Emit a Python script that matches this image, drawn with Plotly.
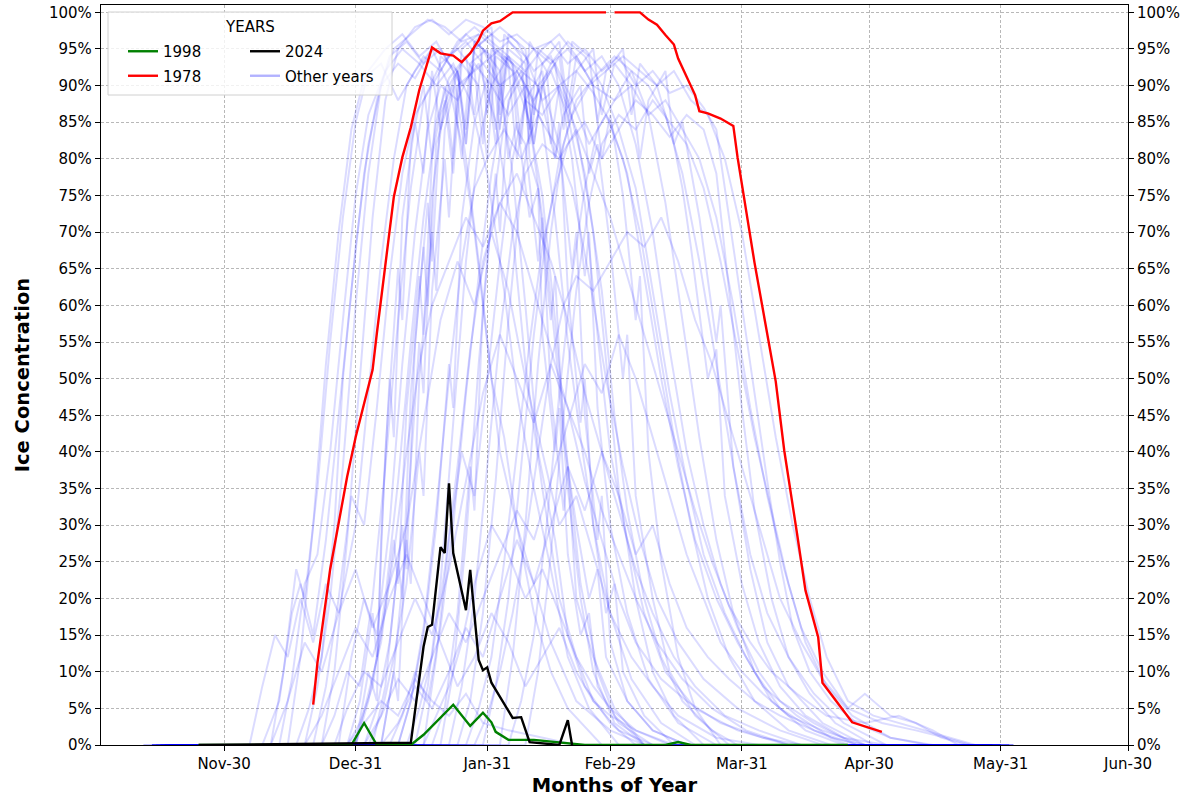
import pandas as pd
import plotly.graph_objects as go

# ---------------- data ----------------
# x values are days since 1 November of the season; y values are ice concentration in %
SEASON_START = "2023-11-01"
TICK_DATES = ["2023-11-30", "2023-12-31", "2024-01-31", "2024-02-29",
              "2024-03-31", "2024-04-30", "2024-05-31", "2024-06-30"]
TICK_LABELS = ["Nov-30", "Dec-31", "Jan-31", "Feb-29", "Mar-31", "Apr-30", "May-31", "Jun-30"]
Y_TICKS = list(range(0, 101, 5))

# highlighted seasons
DAYS_1998 = [23, 59, 62, 65, 73, 76, 83, 87, 90, 92, 93, 96, 102, 107, 111, 114, 133, 136, 139, 176]
CONC_1998 = [0, 0, 3, 0, 0, 1.4, 5.5, 2.6, 4.4, 3.1, 1.8, 0.7, 0.7, 0.4, 0.2, 0, 0, 0.4, 0, 0]

DAYS_1978 = [50, 51, 54, 58, 60, 64, 65, 67, 69, 71, 73, 75, 78, 80, 83, 85, 87, 89, 90, 92, 94, 97,
             119, 120, 121, 127, 129, 131, 133, 135, 136, 138, 140, 141, 143, 146, 148, 149, 150,
             154, 159, 161, 164, 166, 169, 170, 177, 184]
CONC_1978 = [5.5, 11.2, 24, 36.6, 42, 51.2, 56.2, 65.2, 74.8, 80.2, 84.3, 89.4, 95.2, 94.4, 94.1,
             93.2, 94.4, 96.2, 97.5, 98.5, 98.8, 100,
             100, None, 100, 100, 99, 98.3, 96.9, 95.6, 93.7, 91.1, 88.7, 86.5, 86.2, 85.5, 84.9,
             84.5, 80.2, 65.8, 49.6, 40.2, 28.9, 21.1, 14.7, 8.5, 3.1, 1.8]

DAYS_2024 = [23, 73, 76, 77, 78, 80, 81, 82, 83, 86, 87, 89, 90, 91, 92, 94, 97, 99, 101, 108, 110, 111]
CONC_2024 = [0, 0.3, 13.4, 16.1, 16.4, 27, 26.2, 35.7, 26.2, 18.4, 23.9, 11.6, 10.2, 10.6, 8.5, 6.6,
             3.7, 3.8, 0.4, 0, 3.4, 0]

# other seasons: (day, concentration) pairs
Y1979 = [(12,0),(52,0),(55,10),(58,28),(61,50),(64,72),(67,88),(70,95),(74,98),(78,99),(82,97),(86,99),(90,98),(94,96),(98,97),(102,95),(106,96),(110,93),(114,95),(118,92),(122,94),(126,90),(130,92),(134,89),(138,90),(142,87),(145,84),(148,72),(151,60),(154,48),(157,36),(160,25),(163,16),(167,10),(172,6),(178,3),(186,1),(195,0),(214,0)]
Y1980 = [(10,0),(38,0),(42,6),(45,18),(47,22),(50,15),(53,28),(56,45),(59,62),(62,78),(65,88),(68,94),(72,96),(76,93),(80,95),(85,90),(89,93),(93,85),(97,70),(100,52),(104,35),(108,20),(112,12),(116,6),(122,2),(130,0),(205,0)]
Y1981 = [(12,0),(58,0),(61,6),(64,18),(65,12),(67,40),(70,65),(71,58),(73,82),(76,90),(78,80),(80,94),(84,92),(86,84),(88,96),(92,98),(94,88),(96,95),(100,93),(102,82),(104,90),(108,82),(111,65),(112,70),(114,45),(117,28),(118,34),(120,14),(124,6),(130,2),(138,0),(210,0)]
Y1982 = [(15,0),(40,0),(43,10),(46,24),(48,20),(51,35),(54,55),(57,72),(60,85),(63,92),(67,95),(71,97),(75,94),(79,96),(83,92),(86,80),(89,66),(92,50),(95,42),(98,30),(102,18),(106,10),(110,5),(118,0),(200,0)]
Y1983 = [(14,0),(52,0),(55,4),(58,10),(61,8),(64,20),(67,38),(70,58),(73,76),(76,88),(80,93),(84,95),(88,92),(92,94),(96,96),(100,94),(104,88),(108,90),(112,84),(116,70),(119,52),(122,35),(126,20),(130,10),(135,4),(142,0),(210,0)]
Y1984 = [(10,0),(60,0),(63,10),(65,6),(66,28),(68,50),(69,42),(71,72),(74,85),(76,78),(78,92),(80,84),(82,90),(86,94),(88,86),(90,95),(94,92),(96,80),(98,85),(101,72),(103,76),(104,56),(107,40),(108,46),(110,26),(113,15),(115,18),(117,8),(122,3),(130,0),(200,0)]
Y1985 = [(12,0),(46,0),(49,5),(52,12),(55,30),(57,50),(60,68),(63,82),(66,90),(70,93),(74,91),(78,95),(82,94),(86,97),(90,95),(94,90),(97,78),(100,60),(103,40),(107,28),(110,15),(114,8),(120,3),(126,0),(210,0)]
Y1986 = [(15,0),(62,0),(65,5),(68,14),(71,30),(72,24),(74,55),(77,74),(78,66),(80,86),(84,92),(86,82),(88,96),(92,94),(94,84),(96,97),(100,95),(102,86),(104,93),(108,96),(110,87),(112,94),(116,90),(118,80),(120,86),(123,75),(126,58),(127,64),(129,40),(132,25),(136,12),(140,5),(146,0),(212,0)]
Y1987 = [(14,0),(35,0),(38,8),(41,15),(44,12),(47,20),(50,14),(53,22),(56,18),(60,30),(63,48),(66,66),(69,80),(72,90),(76,94),(80,92),(84,96),(88,98),(92,96),(96,94),(100,88),(104,75),(107,58),(110,38),(113,22),(117,10),(121,4),(128,0),(205,0)]
Y1988 = [(20,0),(56,0),(59,12),(62,20),(65,15),(68,30),(71,52),(74,70),(77,84),(80,90),(84,88),(88,93),(92,90),(96,86),(100,90),(104,85),(107,72),(110,55),(113,42),(116,30),(120,18),(125,9),(132,3),(140,0),(205,0)]
Y1989 = [(20,0),(70,0),(73,6),(76,15),(79,30),(82,52),(83,46),(85,72),(88,85),(91,91),(93,82),(95,94),(99,92),(101,84),(103,95),(107,93),(109,84),(111,96),(115,94),(117,85),(119,92),(123,95),(125,86),(127,93),(131,90),(135,82),(137,76),(139,68),(143,50),(145,54),(147,34),(151,22),(155,14),(160,8),(166,4),(175,1),(185,0),(212,0)]
Y1990 = [(20,0),(44,0),(47,12),(50,30),(53,52),(56,70),(59,84),(62,91),(66,93),(70,88),(74,92),(78,95),(82,90),(85,82),(88,70),(91,55),(94,40),(98,30),(102,22),(106,14),(112,6),(120,2),(128,0),(198,0)]
Y1991 = [(13,0),(64,0),(67,8),(70,25),(71,20),(73,48),(76,68),(77,60),(79,82),(83,90),(85,80),(87,93),(91,95),(93,84),(95,97),(99,94),(101,82),(103,90),(107,80),(108,85),(110,62),(113,44),(114,50),(116,30),(119,18),(121,22),(123,10),(128,4),(135,0),(208,0)]
Y1992 = [(12,0),(74,0),(77,8),(80,22),(83,44),(86,66),(89,82),(92,90),(96,94),(100,92),(104,95),(108,97),(112,94),(116,90),(121,88),(125,92),(129,86),(133,74),(137,58),(141,42),(145,28),(149,18),(154,10),(160,5),(168,2),(178,0),(215,0)]
Y1993 = [(18,0),(48,0),(51,8),(54,20),(57,38),(60,60),(63,78),(66,90),(69,95),(73,97),(77,99),(81,98),(85,96),(89,97),(93,95),(97,92),(101,85),(104,72),(107,55),(110,35),(113,20),(116,10),(121,3),(128,0),(200,0)]
Y1994 = [(17,0),(58,0),(61,3),(64,8),(67,20),(70,36),(73,55),(76,72),(79,85),(82,91),(86,94),(90,96),(94,98),(98,96),(102,92),(106,94),(110,88),(114,78),(118,62),(121,45),(124,32),(128,20),(132,12),(137,6),(144,2),(150,0),(210,0)]
Y1995 = [(16,0),(78,0),(81,5),(84,18),(87,38),(88,32),(90,60),(93,78),(94,70),(96,88),(100,92),(102,82),(104,90),(108,94),(110,85),(112,92),(116,95),(118,86),(121,93),(125,90),(127,80),(129,88),(133,92),(135,82),(137,85),(141,72),(145,55),(146,60),(149,38),(153,24),(157,14),(162,8),(170,3),(180,0),(212,0)]
Y1996 = [(16,0),(42,0),(45,9),(48,22),(51,26),(54,40),(57,58),(60,75),(63,86),(67,92),(71,95),(75,93),(79,90),(83,93),(87,88),(91,78),(95,62),(98,48),(102,35),(106,24),(110,12),(115,5),(122,0),(205,0)]
Y1997 = [(12,0),(66,0),(69,10),(70,6),(72,30),(75,55),(76,48),(78,75),(81,88),(83,78),(85,93),(89,90),(91,80),(93,94),(97,92),(98,84),(100,82),(103,66),(104,72),(106,48),(109,32),(110,38),(112,20),(116,12),(121,5),(128,0),(200,0)]
Y1999 = [(18,0),(80,0),(83,10),(86,28),(89,52),(92,72),(95,85),(98,92),(102,95),(106,93),(110,96),(114,94),(118,90),(122,84),(126,76),(130,62),(134,48),(138,36),(142,26),(147,18),(152,12),(158,6),(166,2),(175,0),(210,0)]
Y2000 = [(18,0),(60,0),(63,7),(66,14),(69,28),(70,22),(72,46),(75,64),(76,56),(78,80),(81,90),(83,80),(85,95),(89,97),(91,86),(93,95),(97,93),(99,82),(101,96),(105,92),(107,80),(109,86),(113,90),(115,78),(117,82),(120,68),(123,50),(124,56),(126,34),(130,20),(134,10),(140,4),(148,0),(208,0)]
Y2001 = [(14,0),(68,0),(71,4),(74,10),(77,6),(80,16),(83,30),(86,48),(89,64),(92,78),(95,88),(99,92),(103,90),(107,93),(111,88),(115,82),(119,86),(123,80),(127,70),(131,56),(135,42),(139,30),(143,20),(148,12),(154,6),(162,2),(172,0),(212,0)]
Y2002 = [(14,0),(90,0),(93,8),(96,20),(99,38),(102,56),(105,70),(108,80),(111,86),(115,90),(119,92),(123,94),(127,92),(131,90),(135,92),(139,88),(143,86),(147,80),(151,70),(155,56),(159,42),(163,30),(167,20),(171,12),(176,6),(182,4),(188,3),(194,2),(200,1),(206,0),(215,0)]
Y2003 = [(15,0),(63,0),(66,4),(69,12),(72,22),(75,40),(76,34),(78,62),(81,80),(82,72),(84,90),(88,92),(90,82),(92,95),(96,93),(98,80),(100,88),(104,92),(106,82),(108,90),(111,80),(114,64),(115,70),(117,46),(120,30),(124,18),(129,9),(136,3),(145,0),(212,0)]
Y2004 = [(16,0),(84,0),(87,6),(90,18),(93,36),(96,58),(99,76),(102,88),(106,93),(110,95),(114,92),(118,94),(122,90),(126,82),(130,70),(134,54),(138,40),(142,30),(146,22),(150,16),(155,10),(160,6),(168,3),(178,0),(212,0)]
Y2005 = [(18,0),(96,0),(99,6),(102,15),(105,30),(108,48),(111,64),(114,76),(117,84),(121,88),(125,90),(129,86),(133,88),(137,84),(141,80),(145,72),(149,60),(153,46),(157,34),(161,24),(165,16),(170,10),(176,5),(180,7),(186,4),(192,3),(198,1),(204,0),(215,0)]
Y2006 = [(20,0),(76,0),(79,12),(82,28),(85,40),(88,34),(91,50),(94,66),(97,80),(100,88),(104,86),(108,90),(112,92),(116,89),(120,85),(124,78),(128,64),(132,50),(136,38),(140,28),(145,20),(150,14),(156,8),(164,4),(172,1),(180,0),(210,0)]
Y2007 = [(22,0),(100,0),(103,10),(106,26),(109,45),(112,62),(115,74),(118,82),(122,86),(126,84),(130,88),(134,85),(138,82),(142,76),(146,66),(150,54),(154,42),(158,32),(162,22),(166,14),(171,8),(177,4),(186,1),(196,0),(214,0)]
Y2008 = [(16,0),(50,0),(53,8),(56,20),(59,34),(62,30),(65,46),(68,64),(71,78),(74,86),(78,90),(82,94),(86,96),(90,93),(94,90),(98,92),(102,88),(106,92),(110,86),(114,74),(117,56),(120,40),(124,28),(128,18),(133,10),(140,5),(150,2),(162,0),(210,0)]
Y2009 = [(15,0),(86,0),(89,5),(92,12),(95,25),(98,40),(101,55),(104,68),(107,76),(110,82),(114,85),(118,80),(122,84),(126,88),(130,86),(134,83),(138,86),(142,84),(145,78),(148,62),(151,46),(154,32),(158,20),(162,12),(167,7),(173,3),(182,0),(212,0)]
Y2010 = [(12,0),(40,0),(44,6),(48,14),(52,10),(56,18),(60,24),(64,16),(68,22),(72,30),(76,44),(80,58),(84,66),(88,60),(92,70),(96,62),(100,50),(104,40),(108,30),(112,34),(116,26),(120,18),(125,12),(130,8),(136,4),(145,1),(155,0),(210,0)]
Y2011 = [(20,0),(94,0),(97,12),(100,30),(103,52),(106,70),(109,82),(112,88),(116,91),(121,94),(125,92),(129,90),(133,86),(137,78),(141,66),(145,52),(149,38),(153,26),(157,18),(162,12),(168,7),(175,3),(185,0),(214,0)]
Y2012 = [(15,0),(55,0),(58,5),(62,10),(66,8),(70,14),(74,20),(78,15),(82,24),(86,36),(90,48),(94,56),(98,50),(102,44),(106,52),(110,46),(114,36),(118,28),(122,20),(126,14),(132,9),(138,6),(146,3),(156,1),(165,0),(208,0)]
Y2013 = [(16,0),(88,0),(91,4),(94,10),(97,18),(100,28),(103,40),(106,52),(109,60),(112,64),(116,62),(120,66),(124,70),(128,68),(132,72),(136,66),(140,58),(144,52),(148,44),(152,36),(156,28),(160,20),(165,14),(170,9),(176,5),(184,3),(192,2),(199,1),(205,0),(214,0)]
Y2014 = [(18,0),(70,0),(73,6),(76,16),(79,32),(82,50),(85,66),(88,76),(91,80),(95,84),(99,80),(103,86),(107,82),(111,76),(115,64),(119,50),(123,38),(127,28),(131,20),(136,14),(142,9),(150,5),(160,2),(170,0),(212,0)]
Y2015 = [(18,0),(62,0),(66,4),(70,9),(74,6),(78,12),(82,18),(86,14),(90,20),(94,26),(98,32),(102,28),(106,36),(110,44),(114,52),(118,48),(122,56),(126,50),(130,42),(134,34),(138,26),(142,20),(146,14),(151,10),(156,7),(162,4),(170,2),(180,0),(212,0)]
Y2016 = [(14,0),(60,0),(63,6),(66,15),(69,26),(72,40),(75,52),(78,60),(82,66),(86,72),(90,68),(94,74),(98,70),(102,62),(106,54),(110,46),(114,40),(118,32),(122,26),(126,20),(131,14),(137,9),(144,5),(152,2),(162,0),(210,0)]
Y2017 = [(14,0),(48,0),(52,4),(56,10),(60,16),(64,12),(68,20),(72,26),(76,20),(80,14),(84,8),(88,12),(92,18),(96,14),(100,8),(104,12),(108,16),(112,10),(116,6),(120,4),(126,2),(135,0),(205,0)]
Y2018 = [(20,0),(82,0),(85,8),(88,20),(91,38),(94,56),(97,70),(100,78),(104,82),(108,80),(112,84),(116,78),(120,72),(124,64),(128,56),(132,48),(136,40),(140,32),(144,25),(148,19),(153,14),(158,10),(164,7),(171,4),(180,3),(188,4),(196,2),(202,0),(215,0)]
Y2019 = [(15,0),(66,0),(69,10),(72,28),(73,22),(75,50),(78,70),(79,62),(81,84),(84,92),(86,82),(88,95),(92,97),(94,86),(96,94),(100,90),(101,80),(103,76),(106,58),(107,64),(109,42),(112,30),(115,20),(117,24),(119,12),(124,6),(130,2),(138,0),(208,0)]
Y2020 = [(20,0),(66,0),(70,3),(74,8),(78,5),(82,10),(86,16),(90,12),(94,20),(98,28),(102,22),(106,30),(110,38),(114,32),(118,40),(122,34),(126,26),(130,30),(134,22),(138,16),(143,12),(148,9),(154,6),(160,4),(168,2),(176,0),(212,0)]
Y2021 = [(17,0),(72,0),(75,5),(78,12),(81,24),(84,38),(87,54),(90,66),(94,74),(98,78),(102,72),(106,66),(110,58),(114,48),(118,40),(122,32),(126,24),(130,18),(135,12),(140,8),(147,4),(155,2),(165,0),(210,0)]
Y2022 = [(13,0),(76,0),(79,4),(82,8),(85,14),(88,22),(92,30),(96,26),(100,20),(104,24),(108,18),(112,12),(116,8),(120,5),(126,2),(134,0),(205,0)]
Y2023 = [(12,0),(58,0),(62,3),(66,6),(70,4),(74,9),(78,6),(82,4),(86,7),(90,3),(96,2),(104,1),(112,0),(200,0)]

OTHER_YEARS = [
    (1979, Y1979), (1980, Y1980), (1981, Y1981), (1982, Y1982), (1983, Y1983), (1984, Y1984),
    (1985, Y1985), (1986, Y1986), (1987, Y1987), (1988, Y1988), (1989, Y1989), (1990, Y1990),
    (1991, Y1991), (1992, Y1992), (1993, Y1993), (1994, Y1994), (1995, Y1995), (1996, Y1996),
    (1997, Y1997), (1999, Y1999), (2000, Y2000), (2001, Y2001), (2002, Y2002), (2003, Y2003),
    (2004, Y2004), (2005, Y2005), (2006, Y2006), (2007, Y2007), (2008, Y2008), (2009, Y2009),
    (2010, Y2010), (2011, Y2011), (2012, Y2012), (2013, Y2013), (2014, Y2014), (2015, Y2015),
    (2016, Y2016), (2017, Y2017), (2018, Y2018), (2019, Y2019), (2020, Y2020), (2021, Y2021),
    (2022, Y2022), (2023, Y2023),
]

# ---------------- figure ----------------
BASE = pd.Timestamp(SEASON_START)


def to_dates(days):
    return [BASE + pd.Timedelta(days=float(d)) for d in days]


FONT = "DejaVu Sans"
OTHER_COLOR = "rgba(0,0,255,0.14)"

fig = go.Figure()

for year, pairs in OTHER_YEARS:
    fig.add_trace(go.Scatter(
        x=to_dates([p[0] for p in pairs]), y=[p[1] for p in pairs],
        mode="lines", line=dict(color=OTHER_COLOR, width=2),
        name=str(year), showlegend=False, hovertemplate=f"{year}: %{{y:.1f}}%<extra></extra>",
    ))

fig.add_trace(go.Scatter(x=to_dates(DAYS_1998), y=CONC_1998, mode="lines",
                         line=dict(color="green", width=2.4), name="1998",
                         legend="legend", legendgroup="g1998"))
fig.add_trace(go.Scatter(x=to_dates(DAYS_1978), y=CONC_1978, mode="lines",
                         line=dict(color="red", width=2.4), name="1978", connectgaps=False,
                         legend="legend", legendgroup="g1978"))
fig.add_trace(go.Scatter(x=to_dates(DAYS_2024), y=CONC_2024, mode="lines",
                         line=dict(color="black", width=2.4), name="2024",
                         legend="legend2", legendgroup="g2024"))
# legend entry for the other years
fig.add_trace(go.Scatter(x=[None], y=[None], mode="lines",
                         line=dict(color="rgba(0,0,255,0.3)", width=2.4), name="Other years",
                         legend="legend2", legendgroup="gother"))
# invisible trace so that the right-hand axis is drawn
fig.add_trace(go.Scatter(x=[None], y=[None], yaxis="y2", showlegend=False, hoverinfo="skip"))

grid = dict(showgrid=True, gridcolor="#b8b8b8", gridwidth=0.8, griddash="3px,2px")

fig.update_layout(
    width=1186, height=800,
    margin=dict(l=101, r=58, t=5, b=55),
    paper_bgcolor="white", plot_bgcolor="white",
    font=dict(family=FONT, size=15, color="black"),
    xaxis=dict(
        type="date", range=[to_dates([0])[0], TICK_DATES[-1]],
        tickmode="array", tickvals=TICK_DATES, ticktext=TICK_LABELS,
        ticks="outside", ticklen=5, tickwidth=1, tickcolor="black",
        showline=True, linecolor="black", linewidth=1.3, mirror=True,
        title=dict(text="Months of Year", font=dict(size=19.5, weight="bold"), standoff=6),
        zeroline=False, **grid,
    ),
    yaxis=dict(
        range=[0, 101], tickmode="array", tickvals=Y_TICKS,
        ticktext=[f"{v}%" for v in Y_TICKS],
        ticks="outside", ticklen=5, tickwidth=1, tickcolor="black",
        showline=True, linecolor="black", linewidth=1.3, mirror=True,
        title=dict(text="Ice Concentration", font=dict(size=19.5, weight="bold"), standoff=14),
        zeroline=False, **grid,
    ),
    yaxis2=dict(
        range=[0, 101], overlaying="y", side="right", tickmode="array", tickvals=Y_TICKS,
        ticktext=[f"{v}%" for v in Y_TICKS], ticks="outside", ticklen=5, tickwidth=1,
        tickcolor="black", showgrid=False, zeroline=False, showline=False,
    ),
    legend=dict(x=(123 - 101) / 1027, y=(745 - 35) / 740, xanchor="left", yanchor="top",
                bgcolor="rgba(0,0,0,0)", borderwidth=0, tracegroupgap=2,
                font=dict(size=15, family=FONT)),
    legend2=dict(x=(245 - 101) / 1027, y=(745 - 35) / 740, xanchor="left", yanchor="top",
                 bgcolor="rgba(0,0,0,0)", borderwidth=0, tracegroupgap=2,
                 font=dict(size=15, family=FONT)),
    shapes=[dict(type="rect", xref="paper", yref="paper",
                 x0=(108 - 101) / 1027, x1=(392 - 101) / 1027,
                 y0=(745 - 95) / 740, y1=(745 - 12) / 740,
                 line=dict(color="#d0d0d0", width=1), fillcolor="rgba(255,255,255,0.8)",
                 layer="above")],
    annotations=[dict(text="YEARS", xref="paper", yref="paper",
                      x=(250 - 101) / 1027, y=(745 - 27) / 740, showarrow=False,
                      xanchor="center", yanchor="middle", font=dict(size=15, family=FONT))],
    hovermode="closest",
)

fig.write_html("out.html", post_script="document.body.style.margin='0';",
               config={"displayModeBar": False})
